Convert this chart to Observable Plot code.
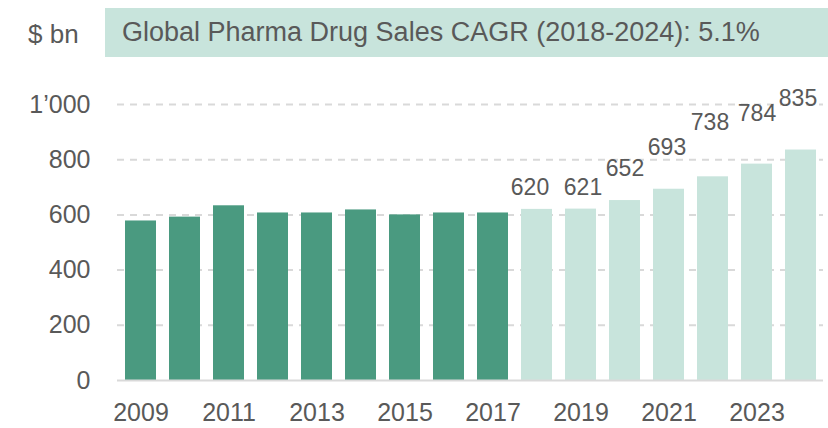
<!DOCTYPE html>
<html><head><meta charset="utf-8">
<script src="https://cdn.jsdelivr.net/npm/d3@7"></script>
<script src="https://cdn.jsdelivr.net/npm/@observablehq/plot@0.6"></script>
<style>
body{margin:0;background:#fff;font-family:"Liberation Sans",Arial,sans-serif;color:#595959;}
#head{position:relative;height:60px;}
#unit{position:absolute;left:28px;top:19px;font-size:26px;line-height:30px;}
#title{position:absolute;left:105px;top:8px;width:723px;height:49px;background:#c8e4dc;font-size:27px;line-height:49px;padding-left:17px;box-sizing:border-box;white-space:nowrap;}
#chart svg{display:block;overflow:visible;}
</style></head><body>
<div id="head"><span id="unit">$ bn</span><div id="title">Global Pharma Drug Sales CAGR (2018-2024): 5.1%</div></div>
<div id="chart"></div>
<script>
const years = [2009,2010,2011,2012,2013,2014,2015,2016,2017,2018,2019,2020,2021,2022,2023,2024];
const sales = [578,592,633,607,607,618,600,607,607,620,621,652,693,738,784,835];
const phase = ["actual","actual","actual","actual","actual","actual","actual","actual","actual","recent","recent","recent","recent","recent","recent","recent"];
const labelYears = [2018,2019,2020,2021,2022,2023,2024];
const yTicks = [0,200,400,600,800,1000];
const xTicks = [2009,2011,2013,2015,2017,2019,2021,2023];

const data = years.map((y,i)=>({year:y, value:sales[i], phase:phase[i]}));
const labelData = data.filter(d=>labelYears.includes(d.year));
// placement of each value label relative to its bar: lift in data units, horizontal shift in px
const lift = [79,78,116,151,197,183,187];
const shift = [-7,2,0,-2,-3,0,-3];

const fmt = d => d >= 1000 ? d3.format(",")(d).replace(",", "\u2019") : String(d);

const chart = Plot.plot({
  width: 828,
  height: 368,
  marginLeft: 117,
  marginRight: 5,
  marginTop: 44,
  marginBottom: 48,
  style: {fontFamily: '"Liberation Sans", Arial, sans-serif', fontSize: "25px", color: "#595959", background: "#fff"},
  x: {type: "band", domain: years, paddingInner: 0.3, paddingOuter: 0.1, label: null, ticks: xTicks, tickSize: 0, tickPadding: 23, tickFormat: d => String(d)},
  y: {domain: [0, 1000], label: null, ticks: yTicks, tickSize: 0, tickPadding: 27, tickFormat: fmt},
  color: {domain: ["actual","recent"], range: ["#4a9a80","#c8e4dc"]},
  marks: [
    Plot.ruleY(yTicks.filter(d=>d>0), {stroke: "#d9d9d9", strokeWidth: 2, strokeDasharray: "7,6", strokeOpacity: 1}),
    Plot.barY(data, {x: "year", y: "value", fill: "phase"}),
    Plot.ruleY([0], {stroke: "#d9d9d9", strokeWidth: 2}),
    ...labelData.map((d,i) => Plot.text([d], {x: "year", y: d.value + lift[i], text: d => String(d.value), fill: "#595959", fontSize: 23, dx: shift[i]}))
  ]
});
document.getElementById("chart").appendChild(chart);
</script>
</body></html>
